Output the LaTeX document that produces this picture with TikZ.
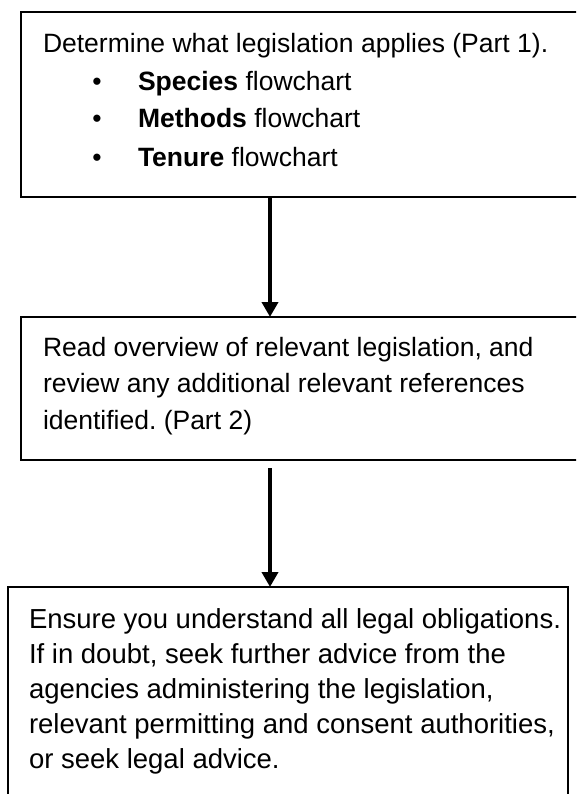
\documentclass[tikz,border=0pt]{standalone}
\usepackage{fontspec}
\setmainfont{Liberation Sans}
\usetikzlibrary{arrows.meta}
\frenchspacing
\tikzset{
  boxframe/.style={draw=black, line width=1.5pt, rectangle, inner sep=0pt, outer sep=0pt, anchor=north west},
  txt/.style={anchor=base west, inner sep=0pt, outer sep=0pt, font=\fontsize{26.5pt}{35pt}\selectfont\frenchspacing},
  txtb/.style={anchor=base west, inner sep=0pt, outer sep=0pt, font=\fontsize{27.5pt}{35pt}\selectfont\frenchspacing},
  bul/.style={anchor=base, inner sep=0pt, outer sep=0pt, font=\fontsize{26.5pt}{35pt}\selectfont},
  arr/.style={line width=4pt, -{Triangle[width=16pt,length=15pt]}}
}
\begin{document}
\begin{tikzpicture}[x=1pt,y=-1pt]
\useasboundingbox (0,0) rectangle (576,794);
\clip (0,0) rectangle (576,794);
% boxes
\node[boxframe, minimum width=600pt, minimum height=185pt] (b1) at (21,12) {};
\node[boxframe, minimum width=600pt, minimum height=143pt] (b2) at (21,317) {};
\node[boxframe, minimum width=560pt, minimum height=260pt] (b3) at (8,587) {};
% box 1 text
\node[txt] (t11) at (43,53) {Determine what legislation applies (Part 1).};
\node[bul] (p1) at (97,91) {•};
\node[bul] (p2) at (97,128) {•};
\node[bul] (p3) at (97,167) {•};
\node[txt] (t12) at (138,91) {\textbf{Species} flowchart};
\node[txt] (t13) at (138,128) {\textbf{Methods} flowchart};
\node[txt] (t14) at (138,167) {\textbf{Tenure} flowchart};
% box 2 text
\node[txt] (t21) at (43,356) {Read overview of relevant legislation, and};
\node[txt] (t22) at (43,392) {review any additional relevant references};
\node[txt] (t23) at (43,429) {identified. (Part 2)};
% box 3 text
\node[txtb] (t31) at (29,628) {Ensure you understand all legal obligations.};
\node[txtb] (t32) at (29,663) {If in doubt, seek further advice from the};
\node[txtb] (t33) at (29,698) {agencies administering the legislation,};
\node[txtb] (t34) at (29,733) {relevant permitting and consent authorities,};
\node[txtb] (t35) at (29,768) {or seek legal advice.};
% connectors
\coordinate (ax) at (270,0);
\draw[arr] (b1.south -| ax) -- (b2.north -| ax);
\draw[arr, shorten <=8pt] (b2.south -| ax) -- (b3.north -| ax);
\end{tikzpicture}
\end{document}
